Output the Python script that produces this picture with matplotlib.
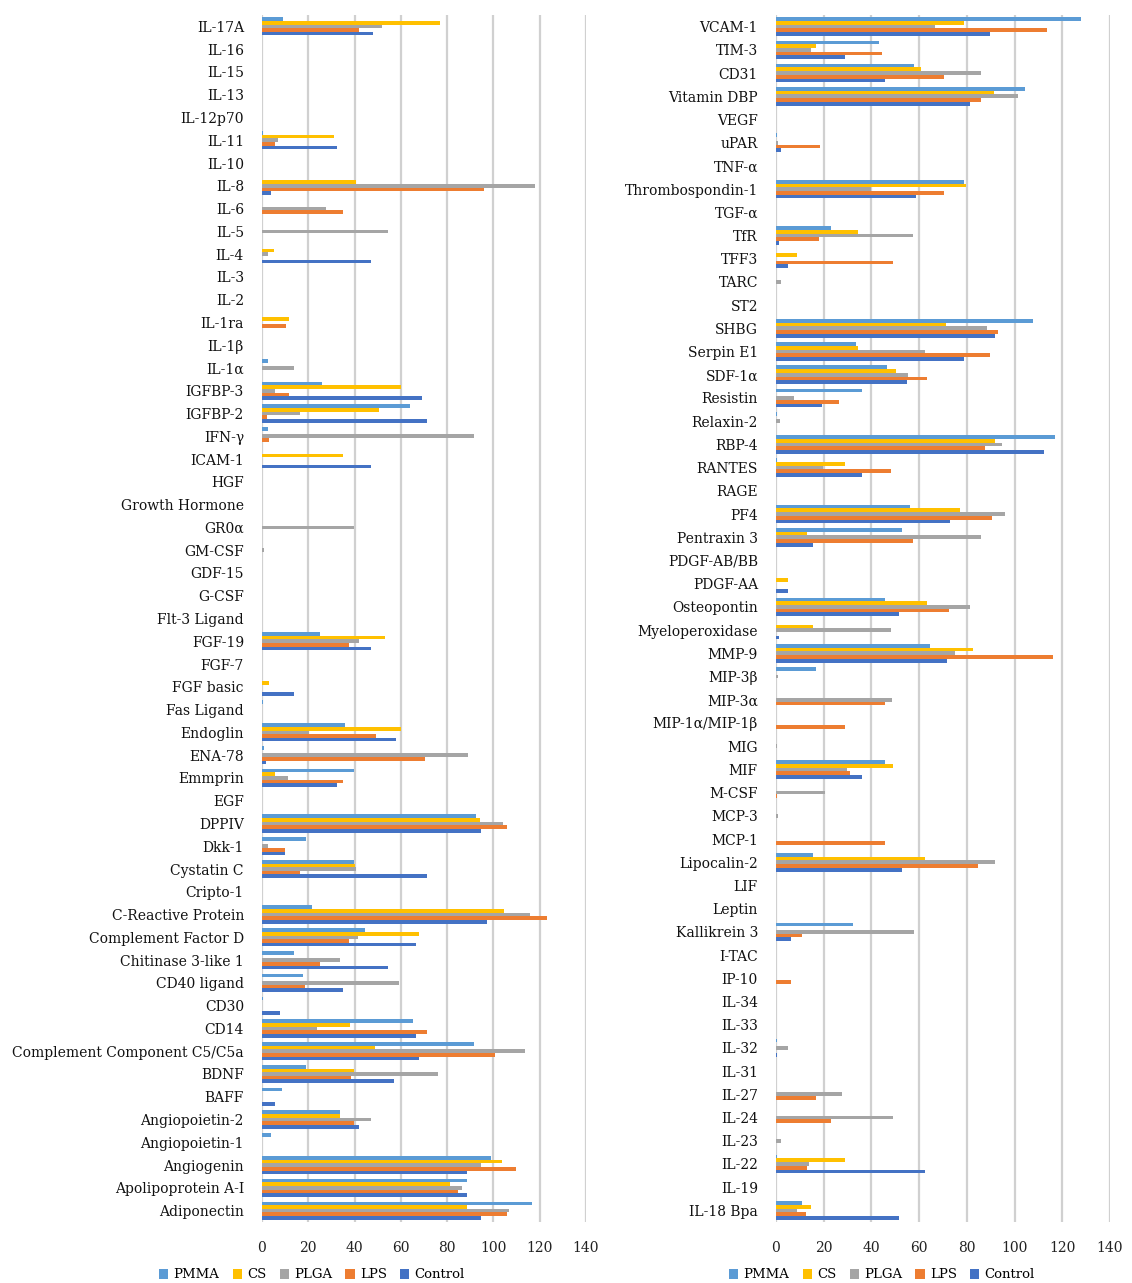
import numpy as np
import matplotlib
matplotlib.use("Agg")
import matplotlib.pyplot as plt
from matplotlib.patches import Patch

# ---- left panel ----
left_categories = [
    "IL-17A", "IL-16", "IL-15", "IL-13", "IL-12p70", "IL-11", "IL-10", "IL-8",
    "IL-6", "IL-5", "IL-4", "IL-3", "IL-2", "IL-1ra", "IL-1β", "IL-1α",
    "IGFBP-3", "IGFBP-2", "IFN-γ", "ICAM-1", "HGF", "Growth Hormone", "GR0α",
    "GM-CSF", "GDF-15", "G-CSF", "Flt-3 Ligand", "FGF-19", "FGF-7", "FGF basic",
    "Fas Ligand", "Endoglin", "ENA-78", "Emmprin", "EGF", "DPPIV", "Dkk-1",
    "Cystatin C", "Cripto-1", "C-Reactive Protein", "Complement Factor D",
    "Chitinase 3-like 1", "CD40 ligand", "CD30", "CD14",
    "Complement Component C5/C5a", "BDNF", "BAFF", "Angiopoietin-2",
    "Angiopoietin-1", "Angiogenin", "Apolipoprotein A-I", "Adiponectin",
]
left_pmma = [9, 0, 0, 0, 0, 0.5, 0, 0, 0, 0, 0, 0, 0, 0, 0, 2.7,
             26, 64, 2.7, 0, 0, 0, 0, 0, 0, 0, 0, 25, 0, 0,
             0.5, 36, 1, 39.7, 0, 92.4, 18.8, 39.7, 0, 21.4, 44.5,
             14, 17.7, 0.5, 65.4, 91.4, 18.8, 8.8, 33.6, 4, 98.8, 88.7, 116.8]
left_cs = [77, 0, 0, 0, 0, 31, 0, 40.5, 0, 0, 5.3, 0, 0, 11.6, 0, 0,
           60, 50.6, 0, 35, 0, 0, 0, 0, 0, 0, 0, 53, 0, 3,
           0, 60.2, 0, 5.5, 0, 94, 0, 40.2, 0, 104.4, 67.8,
           0, 0, 0, 38, 49, 39.7, 0, 33.6, 0, 103.5, 81.4, 88.7]
left_plga = [52, 0, 0, 0, 0, 7, 0, 118, 27.5, 54.5, 2.7, 0, 0, 0, 0, 14,
             5.5, 16.4, 91.5, 0, 0, 0, 39.7, 1, 0, 0, 0, 42, 0, 0,
             0, 20.4, 89, 11.2, 0, 104, 2.7, 40.8, 0, 115.7, 41.3,
             33.6, 59.4, 0, 23.6, 113.6, 76.1, 0, 47.2, 0, 94.8, 86.3, 106.8]
left_lps = [42, 0, 0, 0, 0, 5.5, 0, 96, 35, 0, 0, 0, 0, 10.4, 0, 0,
            11.6, 2, 3, 0, 0, 0, 0, 0, 0, 0, 0, 37.8, 0, 0,
            0, 49.3, 70.5, 35, 0, 106, 10, 16.4, 0, 123.2, 37.6,
            24.9, 18.5, 0, 71.5, 100.7, 38.4, 0, 39.7, 0, 109.6, 84.7, 105.9]
left_control = [48, 0, 0, 0, 0, 32.5, 0, 4, 0, 0, 47, 0, 0, 0, 0, 0,
                69, 71.5, 0, 47.2, 0, 0, 0, 0, 0, 0, 0, 47.2, 0, 14,
                0, 57.8, 1.6, 32.5, 0, 94.8, 10, 71.5, 0, 97.2, 66.5,
                54.5, 34.9, 7.7, 66.5, 67.8, 56.9, 5.5, 42.1, 0, 88.7, 88.7, 94.6]

# ---- right panel ----
right_categories = [
    "VCAM-1", "TIM-3", "CD31", "Vitamin DBP", "VEGF", "uPAR", "TNF-α",
    "Thrombospondin-1", "TGF-α", "TfR", "TFF3", "TARC", "ST2", "SHBG",
    "Serpin E1", "SDF-1α", "Resistin", "Relaxin-2", "RBP-4", "RANTES", "RAGE",
    "PF4", "Pentraxin 3", "PDGF-AB/BB", "PDGF-AA", "Osteopontin",
    "Myeloperoxidase", "MMP-9", "MIP-3β", "MIP-3α", "MIP-1α/MIP-1β", "MIG",
    "MIF", "M-CSF", "MCP-3", "MCP-1", "Lipocalin-2", "LIF", "Leptin",
    "Kallikrein 3", "I-TAC", "IP-10", "IL-34", "IL-33", "IL-32", "IL-31",
    "IL-27", "IL-24", "IL-23", "IL-22", "IL-19", "IL-18 Bpa",
]
right_pmma = [127.8, 43.1, 57.7, 104.2, 0, 0.5, 0, 78.7, 0, 23, 0, 0, 0, 107.8,
              33.4, 46.7, 35.9, 0.5, 117.1, 0.5, 0, 56.3, 52.7, 0, 0, 45.5,
              0, 64.6, 16.9, 0, 0, 0, 45.5, 0, 0, 0, 15.7, 0, 0,
              32.4, 0, 0, 0, 0, 0.5, 0, 0, 0, 0, 0.5, 0, 10.9]
right_cs = [78.7, 16.9, 60.6, 91.3, 0, 0, 0, 79.6, 0, 34.5, 8.6, 0, 0, 71.3,
            34.5, 50.1, 0, 0, 92, 28.8, 0, 77.3, 12.9, 0, 5, 63.4,
            15.7, 82.7, 0, 0, 0, 0, 49.1, 0, 0, 0, 62.3, 0, 0,
            0, 0, 0, 0, 0, 0, 0, 0, 0, 0, 28.8, 0, 14.5]
right_plga = [66.7, 14.5, 86, 101.4, 0, 1, 0, 39.8, 0, 57.4, 0, 2.3, 0, 88.5,
              62.3, 55.5, 7.6, 1.5, 94.6, 19.8, 0, 95.9, 86, 0, 0, 81.3,
              48, 74.9, 1, 48.8, 0, 0.3, 29.8, 20.5, 0.8, 0, 92, 0, 0,
              57.7, 0, 0, 0, 0, 5, 0, 27.6, 49.1, 2.3, 14, 0, 8.6]
right_lps = [113.8, 44.5, 70.6, 86, 0, 18.3, 0, 70.6, 0, 18, 49.1, 0, 0, 93,
             89.9, 63.4, 26.2, 0, 87.8, 48, 0, 90.6, 57.4, 0, 0, 72.4,
             0, 116, 0, 45.5, 28.8, 0, 31.2, 0.5, 0, 45.5, 84.6, 0, 0,
             10.9, 0, 6.2, 0, 0, 0, 0, 16.9, 23, 0, 12.9, 0, 12.6]
right_control = [89.9, 29.1, 45.5, 81.3, 0, 2.3, 0, 58.7, 0, 1.1, 5.2, 0, 0, 92,
                 78.7, 55.1, 19.3, 0, 112.5, 35.9, 0, 73, 15.7, 0, 5, 51.5,
                 1.1, 71.6, 0, 0, 0, 0, 35.9, 0, 0, 0, 52.7, 0, 0,
                 6.2, 0, 0, 0, 0, 0.5, 0, 0, 0, 0, 62.3, 0, 51.5]

series_names = ["PMMA", "CS", "PLGA", "LPS", "Control"]
series_colors = ["#5B9BD5", "#FFC000", "#A5A5A5", "#ED7D31", "#4472C4"]
x_ticks = [0, 20, 40, 60, 80, 100, 120, 140]

FONT = "DejaVu Serif"
W, H = 1132, 1283
fig = plt.figure(figsize=(W / 100, H / 100), dpi=100)


def draw_panel(rect, categories, series):
    ax = fig.add_axes(rect)
    n = len(categories)
    idx = np.arange(n)
    bar_h = 0.16
    for k, (vals, color) in enumerate(zip(series, series_colors)):
        ax.barh(idx + (k - 2) * bar_h, vals, height=bar_h, color=color,
                edgecolor="none", zorder=3)
    ax.set_xlim(0, 140)
    ax.set_ylim(n - 0.5, -0.5)
    ax.set_xticks(x_ticks)
    ax.set_xticklabels([str(t) for t in x_ticks], fontsize=10, family=FONT,
                       color="#222222")
    ax.set_yticks(idx)
    ax.set_yticklabels(categories, fontsize=10, family=FONT, color="#111111")
    ax.tick_params(length=0)
    ax.tick_params(axis="y", pad=13)
    ax.tick_params(axis="x", pad=14)
    for s in ax.spines.values():
        s.set_visible(False)
    ax.xaxis.grid(True, color="#D0D0D0", linewidth=1.6, zorder=0)
    ax.set_axisbelow(True)
    return ax


top_px, bot_px = 15, 1222
bottom = 1 - bot_px / H
height = (bot_px - top_px) / H

draw_panel([262 / W, bottom, (586 - 262) / W, height], left_categories,
           [left_pmma, left_cs, left_plga, left_lps, left_control])
draw_panel([776 / W, bottom, (1110 - 776) / W, height], right_categories,
           [right_pmma, right_cs, right_plga, right_lps, right_control])

handles = [Patch(facecolor=c, edgecolor="none", label=nm)
           for nm, c in zip(series_names, series_colors)]
for cx in (312 / W, 882 / W):
    fig.legend(handles=handles, loc="center", bbox_to_anchor=(cx, 1 - 1275 / H),
               ncol=5, frameon=False, handlelength=0.7, handleheight=0.7,
               handletextpad=0.4, columnspacing=1.0,
               prop={"family": FONT, "size": 9.5})

fig.savefig("out.png", dpi=100, facecolor="white")
